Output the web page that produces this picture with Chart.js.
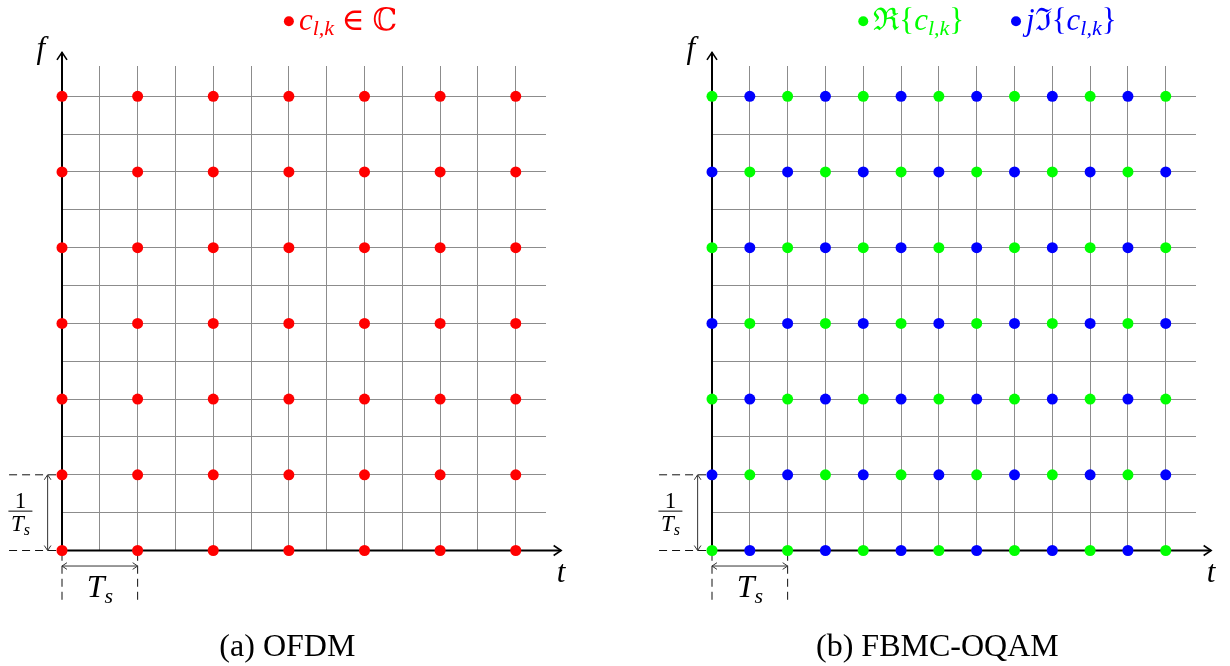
<!DOCTYPE html>
<html>
<head>
<meta charset="utf-8">
<script src="https://cdn.jsdelivr.net/npm/chart.js@4.4.1/dist/chart.umd.min.js"></script>
<style>
  html, body { margin: 0; padding: 0; background: #fff; }
  body { width: 1230px; height: 666px; position: relative; overflow: hidden; }
  .panel { position: absolute; top: 0; width: 615px; height: 666px; }
</style>
</head>
<body>
<div class="panel" style="left:0"><canvas id="ofdmChart" width="615" height="666"></canvas></div>
<div class="panel" style="left:615px"><canvas id="fbmcChart" width="615" height="666"></canvas></div>
<script>
// Lattice positions: time in units of Ts, frequency in units of 1/Ts
const ofdmTimes = [0, 1, 2, 3, 4, 5, 6];
const subcarriers = [0, 1, 2, 3, 4, 5, 6];
const fbmcTimes = [0, 0.5, 1, 1.5, 2, 2.5, 3, 3.5, 4, 4.5, 5, 5.5, 6];
// R = real part (green), I = imaginary part (blue); one row per subcarrier, bottom row first
const fbmcPattern = [
    'RIRIRIRIRIRIR',
    'IRIRIRIRIRIRI',
    'RIRIRIRIRIRIR',
    'IRIRIRIRIRIRI',
    'RIRIRIRIRIRIR',
    'IRIRIRIRIRIRI',
    'RIRIRIRIRIRIR'
];
const gridStep = 0.5;
const axisMax = 6.4;

const serif = '"Liberation Serif", "DejaVu Serif", serif';
const RED = '#ff0000';
const GREEN = '#00ff00';
const BLUE = '#0000ff';

function font(size, italic) {
    return (italic ? 'italic ' : '') + size + 'px ' + serif;
}

// runs: [text, size, italic, baseline shift]
function drawRuns(ctx, x, y, runs, color, align) {
    let width = 0;
    runs.forEach(r => {
        ctx.font = font(r[1], r[2]);
        width += ctx.measureText(r[0]).width;
    });
    let cx = align === 'center' ? x - width / 2 : x;
    ctx.fillStyle = color;
    ctx.textAlign = 'left';
    ctx.textBaseline = 'alphabetic';
    runs.forEach(r => {
        ctx.font = font(r[1], r[2]);
        ctx.fillText(r[0], cx, y + (r[3] || 0));
        cx += ctx.measureText(r[0]).width;
    });
}

function arrowHead(ctx, x, y, angle, size) {
    ctx.beginPath();
    ctx.moveTo(x + size * Math.cos(angle + 2.55), y + size * Math.sin(angle + 2.55));
    ctx.lineTo(x, y);
    ctx.lineTo(x + size * Math.cos(angle - 2.55), y + size * Math.sin(angle - 2.55));
    ctx.stroke();
}

function latticeDecor(legendItems, caption) {
    return {
        id: 'latticeDecor',
        beforeDatasetsDraw(chart) {
            const { ctx, scales: { x, y } } = chart;
            const px = v => x.getPixelForValue(v);
            const py = v => y.getPixelForValue(v);
            ctx.save();
            ctx.strokeStyle = '#000';
            ctx.lineWidth = 2;
            ctx.beginPath();
            ctx.moveTo(px(0), py(0));
            ctx.lineTo(px(6.6), py(0));
            ctx.moveTo(px(0), py(0));
            ctx.lineTo(px(0), py(6.58));
            ctx.stroke();
            ctx.lineWidth = 1.6;
            arrowHead(ctx, px(6.6), py(0), 0, 9);
            arrowHead(ctx, px(0), py(6.58), -Math.PI / 2, 9);

            // dimension helpers: dashed extension lines
            ctx.lineWidth = 1;
            ctx.strokeStyle = '#111';
            ctx.setLineDash([8, 5]);
            ctx.beginPath();
            [0, 1].forEach(f => {
                ctx.moveTo(px(-0.7), py(f));
                ctx.lineTo(px(-0.07), py(f));
            });
            [0, 1].forEach(t => {
                ctx.moveTo(px(t), py(-0.03));
                ctx.lineTo(px(t), py(-0.71));
            });
            ctx.stroke();
            ctx.setLineDash([]);

            // double arrows
            ctx.strokeStyle = '#333';
            ctx.beginPath();
            ctx.moveTo(px(-0.19), py(0));
            ctx.lineTo(px(-0.19), py(1));
            ctx.moveTo(px(0), py(-0.205));
            ctx.lineTo(px(1), py(-0.205));
            ctx.stroke();
            arrowHead(ctx, px(-0.19), py(1), -Math.PI / 2, 6);
            arrowHead(ctx, px(-0.19), py(0), Math.PI / 2, 6);
            arrowHead(ctx, px(0), py(-0.205), Math.PI, 6);
            arrowHead(ctx, px(1), py(-0.205), 0, 6);
            ctx.restore();
        },
        afterDraw(chart) {
            const { ctx, scales: { x, y } } = chart;
            const px = v => x.getPixelForValue(v);
            const py = v => y.getPixelForValue(v);
            ctx.save();

            // axis names
            drawRuns(ctx, px(-0.28), py(6.5), [['f', 31, true]], '#000', 'center');
            drawRuns(ctx, px(6.6), py(-0.42), [['t', 31, true]], '#000', 'center');

            // Ts and 1/Ts
            drawRuns(ctx, px(0.5), py(-0.62), [['T', 32, true], ['s', 22, true, 6]], '#000', 'center');
            const fx = px(-0.55);
            drawRuns(ctx, fx, py(0.56), [['1', 23, false]], '#000', 'center');
            ctx.strokeStyle = '#000';
            ctx.lineWidth = 1;
            ctx.beginPath();
            ctx.moveTo(fx - 12, py(0.52));
            ctx.lineTo(fx + 12, py(0.52));
            ctx.stroke();
            drawRuns(ctx, fx, py(0.26), [['T', 23, true], ['s', 16, true, 4]], '#000', 'center');

            // legend
            legendItems.forEach(item => {
                const lx = px(item.t);
                const ly = py(6.99);
                ctx.fillStyle = item.color;
                ctx.beginPath();
                ctx.arc(lx, ly, 5, 0, Math.PI * 2);
                ctx.fill();
                drawRuns(ctx, lx + 10, ly + 9, item.runs, item.color, 'left');
            });

            // caption
            drawRuns(ctx, px(2.98), py(-1.39), [[caption, 32, false]], '#000', 'center');
            ctx.restore();
        }
    };
}

function latticeScales() {
    const axis = () => ({
        type: 'linear',
        min: 0,
        max: axisMax,
        border: { display: false },
        grid: { color: '#8c8c8c', lineWidth: 1, drawTicks: false },
        ticks: { display: false, stepSize: gridStep, includeBounds: false }
    });
    return { x: axis(), y: axis() };
}

function latticeOptions(padding) {
    return {
        responsive: false,
        animation: false,
        devicePixelRatio: 1,
        events: [],
        layout: { padding: padding, autoPadding: false },
        plugins: {
            legend: { display: false },
            tooltip: { enabled: false }
        },
        scales: latticeScales()
    };
}

const subscriptLK = ['l,k', 22, true, 5];

document.addEventListener('DOMContentLoaded', function () {
    initOfdmChart();
    initFbmcChart();
});

function initOfdmChart() {
    const ctx = document.getElementById('ofdmChart').getContext('2d');
    const points = subcarriers.flatMap(f => ofdmTimes.map(t => ({ x: t, y: f })));

    new Chart(ctx, {
        type: 'scatter',
        data: {
            datasets: [{
                label: 'c_{l,k}',
                data: points,
                backgroundColor: RED,
                borderWidth: 0,
                pointRadius: 5.5,
                clip: false
            }]
        },
        options: latticeOptions({ left: 62, right: 69, top: 66, bottom: 115.5 }),
        plugins: [latticeDecor([
            { t: 3.0, color: RED, runs: [['c', 31, true], subscriptLK, [' \u2208 ', 31, false], ['\u2102', 31, false]] }
        ], '(a) OFDM')]
    });
}

function initFbmcChart() {
    const ctx = document.getElementById('fbmcChart').getContext('2d');
    const realPoints = [];
    const imagPoints = [];
    subcarriers.forEach(f => {
        fbmcTimes.forEach((t, i) => {
            (fbmcPattern[f][i] === 'R' ? realPoints : imagPoints).push({ x: t, y: f });
        });
    });

    new Chart(ctx, {
        type: 'scatter',
        data: {
            datasets: [{
                label: 'Re',
                data: realPoints,
                backgroundColor: GREEN,
                borderWidth: 0,
                pointRadius: 5.5,
                clip: false
            }, {
                label: 'Im',
                data: imagPoints,
                backgroundColor: BLUE,
                borderWidth: 0,
                pointRadius: 5.5,
                clip: false
            }]
        },
        options: latticeOptions({ left: 97, right: 34, top: 66, bottom: 115.5 }),
        plugins: [latticeDecor([
            { t: 2.0, color: GREEN, runs: [['\u211C{', 31, false], ['c', 31, true], subscriptLK, ['}', 31, false]] },
            { t: 4.02, color: BLUE, runs: [['j', 31, true], ['\u2111{', 31, false], ['c', 31, true], subscriptLK, ['}', 31, false]] }
        ], '(b) FBMC-OQAM')]
    });
}
</script>
</body>
</html>
